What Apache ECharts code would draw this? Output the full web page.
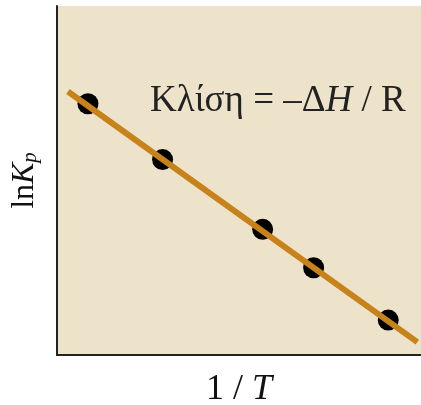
<!DOCTYPE html>
<html>
<head>
<meta charset="utf-8">
<script src="https://cdn.jsdelivr.net/npm/echarts@6/dist/echarts.min.js"></script>
<style>
  html, body { margin: 0; padding: 0; background: #fff; }
  #main { width: 421px; height: 405px; }
</style>
</head>
<body>
<div id="main"></div>
<script>
// 数据：1/T 与 lnKp（无刻度，读图估计）
var pointX = [0.85, 2.9, 5.65, 7.05, 9.1];
var pointY = [7.2, 5.6, 3.6, 2.5, 1.0];
var fitX = [0.3, 9.9];
var fitY = [7.55, 0.37];

var chart = echarts.init(document.getElementById('main'));
var serif = '"Liberation Serif", "DejaVu Serif", serif';

var option = {
  backgroundColor: '#ffffff',
  grid: {
    left: 57, right: 0, top: 6, bottom: 50,
    outerBoundsMode: 'none', containLabel: false,
    show: true, backgroundColor: '#ede3cb', borderWidth: 0
  },
  xAxis: {
    type: 'value', min: 0, max: 10,
    name: '1 / {i|T}',
    nameLocation: 'middle', nameGap: 17,
    nameTextStyle: {
      fontFamily: serif, fontSize: 36, color: '#111',
      rich: { i: { fontFamily: serif, fontStyle: 'italic', fontSize: 36, color: '#111' } }
    },
    axisLine: { lineStyle: { color: '#222', width: 2 } },
    axisTick: { show: false }, axisLabel: { show: false }, splitLine: { show: false }
  },
  yAxis: {
    type: 'value', min: 0, max: 10,
    name: 'ln{i|K}{sub|p}',
    nameLocation: 'middle', nameGap: 16, nameRotate: 90,
    nameTextStyle: {
      fontFamily: serif, fontSize: 32, color: '#111',
      rich: {
        i: { fontFamily: serif, fontStyle: 'italic', fontSize: 32, color: '#111' },
        sub: { fontFamily: serif, fontStyle: 'italic', fontSize: 21, color: '#111', verticalAlign: 'bottom', padding: [10, 0, 0, 0] }
      }
    },
    axisLine: { show: true, lineStyle: { color: '#222', width: 2 } },
    axisTick: { show: false }, axisLabel: { show: false }, splitLine: { show: false }
  },
  graphic: [{
    type: 'text', left: 150, top: 83,
    style: {
      text: 'Κλίση = –Δ{i|H} / R',
      font: '37px ' + serif, fill: '#222',
      rich: { i: { fontFamily: serif, fontStyle: 'italic', fontSize: 37, color: '#222' } }
    }
  }],
  series: [
    {
      type: 'line', silent: true, symbol: 'none',
      data: fitX.map(function (x, i) { return [x, fitY[i]]; }),
      lineStyle: { color: '#c8821a', width: 6 }
    },
    {
      type: 'scatter', silent: true, symbolSize: 21,
      data: pointX.map(function (x, i) { return [x, pointY[i]]; }),
      itemStyle: { color: '#000', opacity: 1 }
    }
  ]
};

chart.setOption(option);
</script>
</body>
</html>
